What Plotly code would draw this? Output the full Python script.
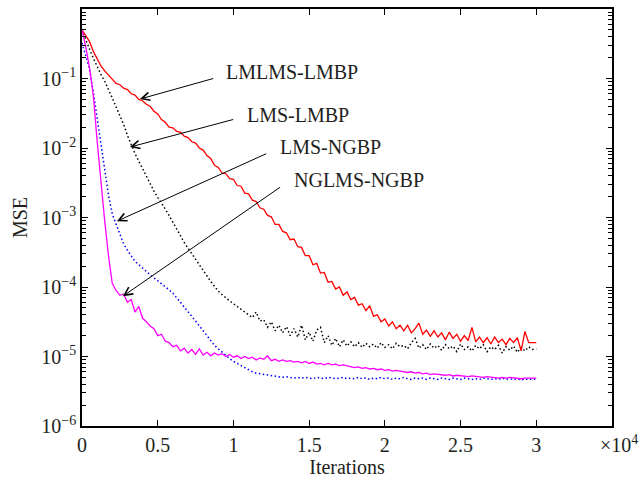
import plotly.graph_objects as go

# iterations grid (every 250 iterations, 0 .. 30000)
iterations = list(range(0, 30001, 250))

# log10(MSE)
lmlms_lmbp = [
    -0.30, -0.39, -0.47, -0.61, -0.72, -0.82, -0.89, -0.95, -1.00, -1.07,
    -1.09, -1.14, -1.16, -1.22, -1.24, -1.30, -1.32, -1.37, -1.40, -1.47,
    -1.51, -1.59, -1.63, -1.70, -1.71, -1.76, -1.77, -1.83, -1.85, -1.91,
    -1.93, -2.00, -2.03, -2.11, -2.15, -2.25, -2.28, -2.36, -2.37, -2.44,
    -2.45, -2.54, -2.55, -2.65, -2.66, -2.75, -2.77, -2.86, -2.88, -2.97,
    -2.99, -3.10, -3.10, -3.20, -3.22, -3.32, -3.31, -3.42, -3.43, -3.55,
    -3.55, -3.68, -3.66, -3.80, -3.79, -3.93, -3.92, -4.03, -4.00, -4.12,
    -4.07, -4.18, -4.15, -4.26, -4.24, -4.34, -4.27, -4.42, -4.40, -4.50,
    -4.46, -4.56, -4.50, -4.60, -4.55, -4.63, -4.55, -4.66, -4.60, -4.52,
    -4.68, -4.62, -4.71, -4.63, -4.72, -4.66, -4.76, -4.65, -4.74, -4.68,
    -4.78, -4.70, -4.77, -4.58, -4.79, -4.72, -4.80, -4.73, -4.82, -4.72,
    -4.80, -4.75, -4.83, -4.74, -4.80, -4.73, -4.92, -4.64, -4.80, -4.80,
    -4.80,
]

lms_lmbp = [
    -0.30, -0.45, -0.58, -0.71, -0.83, -0.94, -1.04, -1.15, -1.28, -1.41,
    -1.53, -1.66, -1.82, -1.96, -2.08, -2.19, -2.30, -2.41, -2.52, -2.62,
    -2.71, -2.79, -2.88, -2.97, -3.07, -3.16, -3.26, -3.36, -3.44, -3.52,
    -3.60, -3.69, -3.76, -3.84, -3.92, -3.99, -4.06, -4.11, -4.16, -4.20,
    -4.24, -4.28, -4.31, -4.35, -4.39, -4.44, -4.36, -4.49, -4.47, -4.58,
    -4.50, -4.63, -4.55, -4.66, -4.57, -4.70, -4.60, -4.72, -4.55, -4.76,
    -4.65, -4.78, -4.62, -4.58, -4.80, -4.70, -4.84, -4.74, -4.86, -4.76,
    -4.85, -4.79, -4.86, -4.80, -4.87, -4.81, -4.86, -4.82, -4.88, -4.80,
    -4.87, -4.83, -4.89, -4.81, -4.86, -4.84, -4.89, -4.80, -4.74, -4.88,
    -4.83, -4.90, -4.82, -4.88, -4.84, -4.91, -4.83, -4.89, -4.85, -4.93,
    -4.82, -4.90, -4.86, -4.92, -4.84, -4.89, -4.83, -4.93, -4.86, -4.90,
    -4.84, -4.95, -4.86, -4.91, -4.85, -4.94, -4.87, -4.92, -4.86, -4.90,
    -4.89,
]

lms_ngbp = [
    -0.49, -0.68, -0.86, -1.20, -1.56, -1.93, -2.28, -2.68, -2.95, -3.10,
    -3.25, -3.38, -3.47, -3.55, -3.63, -3.68, -3.73, -3.78, -3.83, -3.87,
    -3.91, -3.95, -3.99, -4.04, -4.09, -4.15, -4.22, -4.29, -4.35, -4.42,
    -4.49, -4.56, -4.63, -4.70, -4.77, -4.84, -4.89, -4.94, -4.99, -5.03,
    -5.07, -5.10, -5.14, -5.17, -5.20, -5.22, -5.24, -5.25, -5.26, -5.27,
    -5.28, -5.29, -5.29, -5.30, -5.29, -5.30, -5.31, -5.30, -5.31, -5.30,
    -5.31, -5.32, -5.30, -5.31, -5.32, -5.30, -5.31, -5.32, -5.31, -5.30,
    -5.32, -5.31, -5.32, -5.30, -5.32, -5.31, -5.33, -5.31, -5.32, -5.30,
    -5.32, -5.31, -5.33, -5.31, -5.32, -5.30, -5.32, -5.33, -5.31, -5.32,
    -5.31, -5.33, -5.31, -5.32, -5.33, -5.31, -5.32, -5.33, -5.31, -5.32,
    -5.33, -5.31, -5.32, -5.33, -5.32, -5.33, -5.31, -5.32, -5.33, -5.32,
    -5.33, -5.31, -5.33, -5.32, -5.33, -5.32, -5.34, -5.32, -5.33, -5.32,
    -5.33,
]

nglms_ngbp = [
    -0.30, -0.55, -0.85, -1.25, -1.90, -2.50, -3.05, -3.55, -3.95, -4.05,
    -4.12, -4.10, -4.22, -4.18, -4.36, -4.28, -4.45, -4.50, -4.56, -4.60,
    -4.70, -4.68, -4.78, -4.80, -4.86, -4.84, -4.92, -4.88, -4.95, -4.90,
    -4.97, -4.89, -4.98, -4.94, -4.99, -4.95, -4.98, -4.96, -5.00, -4.97,
    -5.01, -4.99, -5.03, -5.00, -5.03, -5.01, -5.05, -5.02, -5.04, -4.99,
    -5.06, -5.04, -5.07, -5.05, -5.07, -5.06, -5.08, -5.07, -5.09, -5.07,
    -5.10, -5.08, -5.11, -5.10, -5.12, -5.10, -5.12, -5.11, -5.13, -5.12,
    -5.13, -5.14, -5.16, -5.15, -5.17, -5.16, -5.18, -5.17, -5.19, -5.18,
    -5.20, -5.19, -5.21, -5.20, -5.21, -5.21, -5.23, -5.22, -5.24, -5.23,
    -5.25, -5.24, -5.26, -5.25, -5.26, -5.26, -5.27, -5.26, -5.28, -5.27,
    -5.28, -5.28, -5.29, -5.28, -5.29, -5.29, -5.30, -5.29, -5.30, -5.30,
    -5.31, -5.30, -5.31, -5.30, -5.31, -5.31, -5.32, -5.31, -5.31, -5.32,
    -5.31,
]

# curve labels: text position, arrow tail, arrow tip (x in iterations, y in log10 MSE)
labels = ['LMLMS-LMBP', 'LMS-LMBP', 'LMS-NGBP', 'NGLMS-NGBP']
label_x = [13843, 14239, 16414, 18293]
label_y = [-0.907, -1.526, -1.987, -2.462]
tail_x = [8767, 10086, 12261, 13184]
tail_y = [-0.994, -1.584, -2.073, -2.549]
tip_x = [3823, 3164, 2307, 2703]
tip_y = [-1.296, -1.987, -3.053, -4.132]

x_ticks = [0, 5000, 10000, 15000, 20000, 25000, 30000]
x_tick_text = ['0', '0.5', '1', '1.5', '2', '2.5', '3']
y_ticks = [1e-6, 1e-5, 1e-4, 1e-3, 1e-2, 1e-1]
y_tick_text = ['10<sup>\u22126</sup>', '10<sup>\u22125</sup>', '10<sup>\u22124</sup>',
               '10<sup>\u22123</sup>', '10<sup>\u22122</sup>', '10<sup>\u22121</sup>']

FONT = 'Liberation Serif'
TEXT = '#231f20'
SIZE = 20

fig = go.Figure()

series = [
    (lms_lmbp, 'black', '1.5px,2.5px', 1.5),
    (lms_ngbp, '#0000ff', '1.5px,2.5px', 1.5),
    (lmlms_lmbp, '#ff0000', 'solid', 1.3),
    (nglms_ngbp, '#ff00ff', 'solid', 1.3),
]
for vals, color, dash, width in series:
    fig.add_trace(go.Scatter(
        x=iterations,
        y=[10 ** v for v in vals],
        mode='lines',
        line=dict(color=color, dash=dash, width=width),
        showlegend=False,
    ))

for i, name in enumerate(labels):
    # arrow
    fig.add_annotation(
        x=tip_x[i], y=tip_y[i], xref='x', yref='y',
        ax=tail_x[i], ay=tail_y[i], axref='x', ayref='y',
        text='', showarrow=True, arrowhead=5, arrowsize=1.6,
        arrowwidth=1, arrowcolor='black', standoff=0,
    )
    # text
    fig.add_annotation(
        x=label_x[i], y=label_y[i], xref='x', yref='y',
        text=name, showarrow=False,
        font=dict(family=FONT, size=SIZE, color=TEXT),
    )

fig.add_annotation(
    x=1.053, y=-0.042, xref='paper', yref='paper',
    xanchor='right', yanchor='middle',
    text='\u00d710<sup>4</sup>', showarrow=False,
    font=dict(family=FONT, size=SIZE, color=TEXT),
)

axis_common = dict(
    showline=True, linecolor='black', linewidth=1.5, mirror='allticks',
    ticks='inside', tickcolor='black', tickwidth=1, ticklen=6,
    showgrid=False, zeroline=False, automargin=False,
    tickfont=dict(family=FONT, size=SIZE, color=TEXT),
)

fig.update_xaxes(
    range=[0, 35000],
    tickvals=x_ticks, ticktext=x_tick_text,
    title=dict(text='Iterations', font=dict(family=FONT, size=SIZE, color=TEXT), standoff=4),
    **axis_common,
)
fig.update_yaxes(
    type='log', range=[-6, 0],
    tickvals=y_ticks, ticktext=y_tick_text,
    minor=dict(ticks='inside', ticklen=4, tickcolor='black', tickwidth=1, dtick='D1'),
    title=dict(text='MSE', font=dict(family=FONT, size=SIZE, color=TEXT), standoff=8),
    **axis_common,
)

fig.update_layout(
    width=642, height=485,
    margin=dict(l=82, r=30, t=9, b=59),
    paper_bgcolor='white', plot_bgcolor='white',
)

fig.write_html('out.html', config={'displayModeBar': False},
               post_script="document.body.style.margin='0';")
